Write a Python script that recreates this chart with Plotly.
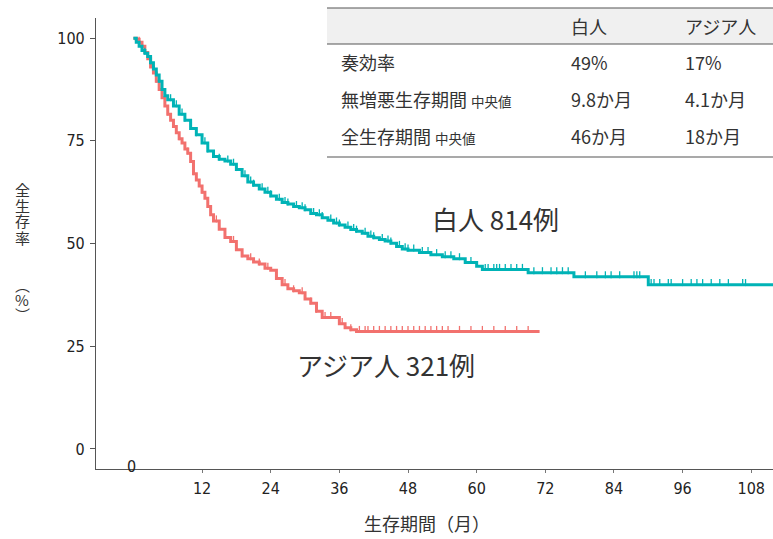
import plotly.graph_objects as go
import bisect

# ---------------- data ----------------
white_t = [0, 0.5, 1, 1.5, 2, 2.5, 3, 3.5, 4, 4.5, 5, 5.5, 6, 7, 8, 9, 10, 11, 12, 13, 14, 15, 16, 17, 18,
           19, 20, 21, 22, 23, 24, 25, 26, 27, 28, 29, 30, 31, 32, 33, 34, 35, 36, 37, 38, 39, 40, 41, 42,
           43, 44, 45, 46, 47, 48, 50, 52, 54, 56, 58, 60, 61, 69, 77, 90, 112]
white_s = [100, 99, 98, 97, 96.3, 95.5, 94, 92.5, 91, 89.5, 87.5, 86, 85, 83.5, 81.5, 80, 78, 76.5, 74.5,
           72.5, 71.2, 70.5, 70.1, 69.3, 68, 66.5, 65, 64.2, 63.3, 62.5, 61.6, 60.8, 60, 59.6, 59, 58.7,
           58.2, 57.3, 57, 56.3, 55.7, 55, 54.5, 54, 53.4, 53, 52.5, 51.8, 51.4, 51, 50.6, 50.1, 49.3, 48.7,
           48.4, 47.8, 47.3, 46.8, 46.3, 45.4, 44.5, 43.7, 42.9, 41.9, 40.0, 40.0]
white_censor = [2, 3, 4.5, 5, 6.5, 7.5, 8.5, 9, 10, 11, 12.5, 13, 14, 15, 16.5, 17.5, 18, 19.5, 20.5, 21,
                22.5, 23.5, 24, 25.5, 26.5, 27, 28.5, 29.5, 30, 31.5, 32.5, 33, 34.5, 35.5, 36, 37.5, 38.5,
                39, 40.5, 41.5, 42, 43.5, 44.5, 45, 46.5, 47.5, 48, 49, 50.5, 51.5, 53, 54.5, 55.5, 57,
                59, 61.5, 62, 63, 63.5, 64, 65, 66, 67, 68, 70, 71.5, 73, 74, 75, 76, 79, 81, 82.5, 83.5,
                85, 87.5, 88, 88.5, 90.5, 91, 92, 93.5, 94, 96, 97.5, 98.5, 99.5, 101, 102.5, 104, 106.5,
                107]

asian_t = [0, 0.5, 1, 1.5, 2, 2.5, 3, 3.5, 4, 4.5, 5, 5.5, 6, 6.5, 7, 7.5, 8, 8.5, 9, 9.5, 10, 10.5, 11,
           11.5, 12, 12.5, 13, 13.5, 14, 15, 16, 17, 18, 19, 20, 21, 22, 23, 24, 25, 26, 27, 28, 29, 30,
           31, 32, 33, 35, 36, 37, 38, 39, 40, 71]
asian_s = [100, 99.7, 99, 98, 96.5, 95, 93, 91.5, 89.5, 87.5, 85.5, 83.5, 81.5, 80, 78.5, 77, 75.5, 74.5,
           73, 72, 70, 67, 65.5, 64, 62.5, 61, 59, 57, 55.5, 53.5, 51.5, 50.5, 48.5, 47, 46.3, 45.5, 45,
           44, 43.5, 41.5, 40, 39, 38.5, 38, 36.5, 35.5, 33.5, 32, 32, 30.5, 29.5, 29, 28.6, 28.6, 28.6]
asian_censor = [1, 2.5, 4, 6, 8, 9.5, 10.5, 12, 13, 14.5, 16, 17.5, 19, 20.5, 22, 23.5, 25, 26.5, 28, 29.5,
                31, 32, 33.5, 34.5, 36.5, 38, 39.5, 40.5, 41, 42, 43, 44, 45, 46, 47, 48, 49, 50, 51, 52,
                53, 54, 55, 57, 59, 61, 63, 65, 67, 69]

y_ticks = [0, 25, 50, 75, 100]
x_ticks = [12, 24, 36, 48, 60, 72, 84, 96, 108]

table_header = ["白人", "アジア人"]
table_rows = ["奏効率", "無増悪生存期間", "全生存期間"]
row_suffix = ["", "中央値", "中央値"]
white_vals = ["49%", "9.8か月", "46か月"]
asian_vals = ["17%", "4.1か月", "18か月"]

white_label = "白人 814例"
asian_label = "アジア人 321例"
y_title_chars = ["全", "生", "存", "率", "︵", "%", "︶"]
x_title = "生存期間（月）"

TEAL = "#00B3B6"
RED = "#F2716E"
CJK = "Noto Sans CJK JP, sans-serif"
NARROW = "Liberation Sans Narrow, DejaVu Sans Condensed, Liberation Sans, sans-serif"


def step_at(ts, ss, t):
    i = bisect.bisect_right(ts, t) - 1
    return ss[max(i, 0)]


fig = go.Figure()
for ts, ss, cens, col in [(asian_t, asian_s, asian_censor, RED), (white_t, white_s, white_censor, TEAL)]:
    fig.add_trace(go.Scatter(x=ts, y=ss, mode="lines", line=dict(color=col, width=3, shape="hv"),
                             showlegend=False, hoverinfo="skip"))
    fig.add_trace(go.Scatter(x=cens, y=[step_at(ts, ss, c) + 0.5 for c in cens], mode="markers",
                             marker=dict(symbol="line-ns", size=5, line=dict(color=col, width=1.3)),
                             showlegend=False, hoverinfo="skip"))

# geometry helpers (pixel -> paper)
L, R, T, B = 96, 0, 18, 70
W, H = 773, 539
PW, PH = W - L - R, H - T - B


def px(x):
    return (x - L) / PW


def py(y):
    return (H - B - y) / PH


shapes = [
    dict(type="rect", xref="paper", yref="paper", x0=px(327), x1=px(773), y0=py(44), y1=py(8),
         fillcolor="#F0F0F0", line=dict(width=0), layer="below"),
    dict(type="line", xref="paper", yref="paper", x0=px(327), x1=px(773), y0=py(8), y1=py(8),
         line=dict(color="#555555", width=1.2)),
    dict(type="line", xref="paper", yref="paper", x0=px(327), x1=px(773), y0=py(44), y1=py(44),
         line=dict(color="#555555", width=1.2)),
    dict(type="line", xref="paper", yref="paper", x0=px(327), x1=px(773), y0=py(157), y1=py(157),
         line=dict(color="#555555", width=1.2)),
]

ann = []
tf = dict(family=CJK, size=18, color="#333333")
ann.append(dict(xref="paper", yref="paper", x=px(569), y=py(26), text=table_header[0], showarrow=False,
                xanchor="left", yanchor="middle", font=tf))
ann.append(dict(xref="paper", yref="paper", x=px(683), y=py(26), text=table_header[1], showarrow=False,
                xanchor="left", yanchor="middle", font=tf))
row_y = [62, 99, 136]
for i, r in enumerate(table_rows):
    txt = r if not row_suffix[i] else f"{r} <span style='font-size:13.5px'>{row_suffix[i]}</span>"
    ann.append(dict(xref="paper", yref="paper", x=px(339), y=py(row_y[i]), text=txt, showarrow=False,
                    xanchor="left", yanchor="middle", font=tf))
    ann.append(dict(xref="paper", yref="paper", x=px(569), y=py(row_y[i]), text=white_vals[i],
                    showarrow=False, xanchor="left", yanchor="middle", font=tf))
    ann.append(dict(xref="paper", yref="paper", x=px(683), y=py(row_y[i]), text=asian_vals[i],
                    showarrow=False, xanchor="left", yanchor="middle", font=tf))

# curve labels
ann.append(dict(xref="paper", yref="paper", x=px(430), y=py(218), text=white_label, showarrow=False,
                xanchor="left", yanchor="middle", font=dict(family=CJK, size=26, color="#333333")))
ann.append(dict(xref="paper", yref="paper", x=px(295), y=py(364), text=asian_label, showarrow=False,
                xanchor="left", yanchor="middle", font=dict(family=CJK, size=26, color="#333333")))

# y title (vertical, upright)
yt_pos = [189, 205, 221, 237, 284, 299, 314]
for ch, yy in zip(y_title_chars, yt_pos):
    ann.append(dict(xref="paper", yref="paper", x=px(22), y=py(yy), xanchor="center", yanchor="middle",
                    text=ch, showarrow=False, font=dict(family=CJK, size=15, color="#333333")))
# x title
ann.append(dict(xref="paper", yref="paper", x=px(427), y=py(523), xanchor="center", yanchor="middle",
                text=x_title, showarrow=False, font=dict(family=CJK, size=18, color="#333333")))
# "0" label
ann.append(dict(xref="x", yref="paper", x=-0.3, y=py(466), xanchor="center", yanchor="middle", text="0",
                showarrow=False, font=dict(family=NARROW, size=16, color="#222222")))

fig.update_layout(
    width=W, height=H, margin=dict(l=L, r=R, t=T, b=B),
    paper_bgcolor="white", plot_bgcolor="white",
    shapes=shapes, annotations=ann, showlegend=False,
    xaxis=dict(range=[-6.54, 111.8], tickvals=x_ticks, ticktext=[str(v) for v in x_ticks],
               showgrid=False, zeroline=False, showline=True, linecolor="#555555", linewidth=1.2,
               ticks="outside", ticklen=3, tickcolor="#777777", ticklabelstandoff=2,
               tickfont=dict(family=NARROW, size=16, color="#222222")),
    yaxis=dict(range=[-4.87, 104.9], tickvals=y_ticks, ticktext=[str(v) for v in y_ticks],
               showgrid=False, zeroline=False, showline=True, linecolor="#555555", linewidth=1.2,
               ticks="outside", ticklen=5, tickcolor="#555555", ticklabelstandoff=2,
               tickfont=dict(family=NARROW, size=16, color="#222222")),
)

fig.write_html("out.html", config={"displayModeBar": False},
               post_script="document.body.style.margin='0';")
